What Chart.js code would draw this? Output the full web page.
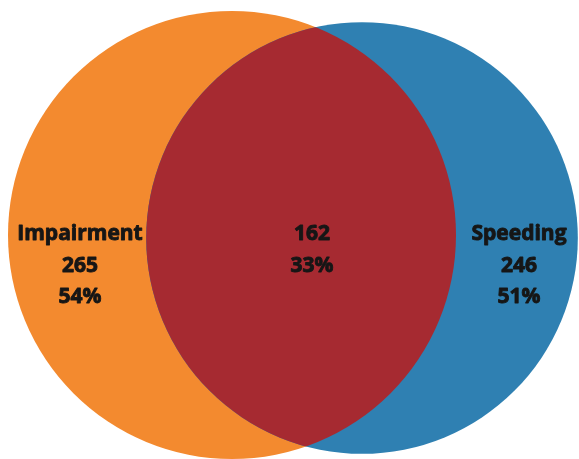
<!DOCTYPE html>
<html>
<head>
<meta charset="utf-8">
<script src="https://cdn.jsdelivr.net/npm/chart.js@4/dist/chart.umd.min.js"></script>
<style>
html,body{margin:0;padding:0;background:#fff;}
#wrap{width:579px;height:459px;}
</style>
</head>
<body>
<div id="wrap"><canvas id="c" width="579" height="459"></canvas></div>
<script>
// ---- data ----
const setNames = ["Impairment", "Speeding"];
const setCounts = [265, 246];
const setPercents = ["54%", "51%"];
const overlapCount = 162;
const overlapPercent = "33%";

// ---- layout (data units of the hidden axes) ----
const centersX = [232, 362];
const centersY = [235, 238];
const radiusPerSqrt = 13.76;
const setColors = ["#F38A2F", "#2F80B2"];
const overlapColor = "#A62A31";
const labelX = [80, 519];
const overlapLabelX = 312;
const labelRowY = [234, 266, 297];

const vennPlugin = {
  id: 'venn',
  beforeDatasetsDraw(chart) {
    const ctx = chart.ctx, xs = chart.scales.x, ys = chart.scales.y;
    const circ = setCounts.map((v, i) => {
      const cx = xs.getPixelForValue(centersX[i]);
      const cy = ys.getPixelForValue(centersY[i]);
      const r = Math.abs(xs.getPixelForValue(centersX[i] + radiusPerSqrt * Math.sqrt(v)) - cx);
      return {cx, cy, r};
    });
    ctx.save();
    circ.forEach((c, i) => {
      ctx.beginPath();
      ctx.arc(c.cx, c.cy, c.r, 0, Math.PI * 2);
      ctx.fillStyle = setColors[i];
      ctx.fill();
    });
    // overlap
    ctx.beginPath();
    ctx.arc(circ[0].cx, circ[0].cy, circ[0].r, 0, Math.PI * 2);
    ctx.clip();
    ctx.beginPath();
    ctx.arc(circ[1].cx, circ[1].cy, circ[1].r, 0, Math.PI * 2);
    ctx.fillStyle = overlapColor;
    ctx.fill();
    ctx.restore();
  },
  afterDatasetsDraw(chart) {
    const ctx = chart.ctx, xs = chart.scales.x, ys = chart.scales.y;
    ctx.save();
    ctx.fillStyle = '#161616';
    ctx.strokeStyle = '#161616';
    ctx.lineWidth = 0.9;
    ctx.lineJoin = 'round';
    ctx.font = 'bold 21px "Open Sans", "DejaVu Sans", sans-serif';
    ctx.textAlign = 'center';
    ctx.textBaseline = 'middle';
    const draw = (t, x, y) => { ctx.fillText(t, x, y); ctx.strokeText(t, x, y); };
    setNames.forEach((n, i) => {
      const x = xs.getPixelForValue(labelX[i]);
      const lines = [n, String(setCounts[i]), setPercents[i]];
      lines.forEach((t, j) => draw(t, x, ys.getPixelForValue(labelRowY[j])));
    });
    const ox = xs.getPixelForValue(overlapLabelX);
    draw(String(overlapCount), ox, ys.getPixelForValue(labelRowY[0]));
    draw(overlapPercent, ox, ys.getPixelForValue(labelRowY[1]));
    ctx.restore();
  }
};

new Chart(document.getElementById('c'), {
  type: 'scatter',
  data: { datasets: [] },
  options: {
    responsive: false,
    animation: false,
    layout: { padding: 0 },
    plugins: { legend: { display: false }, tooltip: { enabled: false } },
    scales: {
      x: { type: 'linear', min: 0, max: 579, display: false },
      y: { type: 'linear', min: 0, max: 459, reverse: true, display: false }
    }
  },
  plugins: [vennPlugin]
});
</script>
</body>
</html>
